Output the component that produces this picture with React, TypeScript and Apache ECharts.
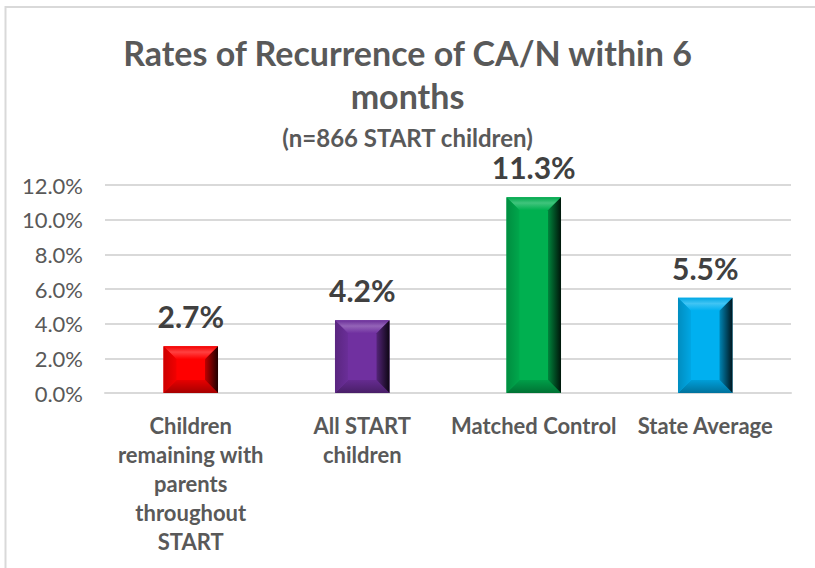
import React, { useEffect, useRef } from "react";
import * as echarts from "echarts";

const categories = [
  "Children\nremaining with\nparents\nthroughout\nSTART",
  "All START\nchildren",
  "Matched Control",
  "State Average",
];
const rates = [0.027, 0.042, 0.113, 0.055];
const barColors = ["#FF0000", "#7030A0", "#00B050", "#00B0F0"];
const titleText = "Rates of Recurrence of CA/N within 6\nmonths";
const subtitleText = "(n=866 START children)";
const yMin = 0;
const yMax = 0.12;
const yStep = 0.02;

const FONT = "Lato, 'Open Sans', sans-serif";

function shade(hex: string, f: number): string {
  const n = parseInt(hex.slice(1), 16);
  let r = (n >> 16) & 255, g = (n >> 8) & 255, b = n & 255;
  if (f >= 0) {
    r = r + (255 - r) * f; g = g + (255 - g) * f; b = b + (255 - b) * f;
  } else {
    r = r * (1 + f); g = g * (1 + f); b = b * (1 + f);
  }
  return `rgb(${Math.round(r)},${Math.round(g)},${Math.round(b)})`;
}

export default function App() {
  const ref = useRef<HTMLDivElement>(null);
  useEffect(() => {
    document.body.style.margin = "0";
    const chart = echarts.init(ref.current!, null, { renderer: "svg" });
    const renderItem = (params: any, api: any) => {
      const idx = api.value(0);
      const val = api.value(1);
      const top = api.coord([idx, val]);
      const base = api.coord([idx, 0]);
      const w = api.size([1, 0])[0] * 0.318;
      const l = top[0] - w / 2;
      const r = top[0] + w / 2;
      const t = top[1];
      const bt = base[1];
      const h = bt - t;
      const b = Math.min(13, h / 2, w / 2);
      const c = barColors[params.dataIndex];
      return {
        type: "group",
        children: [
          { type: "rect", shape: { x: l, y: t, width: w, height: h }, style: { fill: c } },
          {
            type: "polygon",
            shape: { points: [[l, t], [r, t], [r - b, t + b], [l + b, t + b]] },
            style: {
              fill: new echarts.graphic.LinearGradient(0, 0, 0, 1, [
                { offset: 0, color: shade(c, -0.05) },
                { offset: 0.45, color: shade(c, 0.25) },
                { offset: 1, color: c },
              ]),
            },
          },
          {
            type: "polygon",
            shape: { points: [[l, bt], [r, bt], [r - b, bt - b], [l + b, bt - b]] },
            style: {
              fill: new echarts.graphic.LinearGradient(0, 0, 0, 1, [
                { offset: 0, color: shade(c, -0.1) },
                { offset: 1, color: shade(c, -0.35) },
              ]),
            },
          },
          {
            type: "polygon",
            shape: { points: [[l, t], [l + b, t + b], [l + b, bt - b], [l, bt]] },
            style: {
              fill: new echarts.graphic.LinearGradient(0, 0, 1, 0, [
                { offset: 0, color: shade(c, -0.2) },
                { offset: 1, color: shade(c, -0.05) },
              ]),
            },
          },
          {
            type: "polygon",
            shape: { points: [[r, t], [r - b, t + b], [r - b, bt - b], [r, bt]] },
            style: {
              fill: new echarts.graphic.LinearGradient(0, 0, 1, 0, [
                { offset: 0, color: shade(c, -0.25) },
                { offset: 1, color: shade(c, -0.88) },
              ]),
            },
          },
          {
            type: "text",
            x: top[0],
            y: t - 30,
            style: {
              text: (val * 100).toFixed(1) + "%",
              align: "center",
              verticalAlign: "middle",
              fill: "#404040",
              font: `bold 30px ${FONT}`,
            },
          },
        ],
      };
    };
    chart.setOption({
      animation: false,
      backgroundColor: "#ffffff",
      title: [
        {
          text: titleText,
          left: "center",
          top: 26,
          textStyle: { fontFamily: FONT, fontSize: 34, fontWeight: "bold", color: "#595959", lineHeight: 43 },
        },
        {
          text: subtitleText,
          left: "center",
          top: 119,
          textStyle: { fontFamily: FONT, fontSize: 24, fontWeight: "bold", color: "#595959", lineHeight: 26 },
        },
      ],
      graphic: [
        {
          type: "polyline",
          shape: { points: [[5.5, 570], [5.5, 7], [820, 7]] },
          style: { stroke: "#d9d9d9", lineWidth: 2, fill: "none" },
          silent: true,
        },
      ],
      grid: { left: 105, right: 24, top: 185, bottom: 175 },
      xAxis: {
        type: "category",
        data: categories,
        axisTick: { show: false },
        axisLine: { lineStyle: { color: "#d9d9d9", width: 2 } },
        axisLabel: {
          interval: 0,
          margin: 18,
          color: "#595959",
          fontFamily: FONT,
          fontSize: 22,
          fontWeight: "bold",
          lineHeight: 29,
        },
      },
      yAxis: {
        type: "value",
        min: yMin,
        max: yMax,
        interval: yStep,
        axisLine: { show: false },
        axisTick: { show: false },
        splitLine: { lineStyle: { color: "#d9d9d9", width: 2 } },
        axisLabel: {
          margin: 22,
          color: "#595959",
          fontFamily: FONT,
          fontSize: 22,
          formatter: (v: number) => (v * 100).toFixed(1) + "%",
        },
      },
      series: [
        {
          type: "custom",
          renderItem,
          data: rates.map((v, i) => [i, v]),
          encode: { x: 0, y: 1 },
          z: 3,
        },
      ],
    });
    return () => chart.dispose();
  }, []);
  return <div ref={ref} style={{ width: 815, height: 568 }} />;
}
